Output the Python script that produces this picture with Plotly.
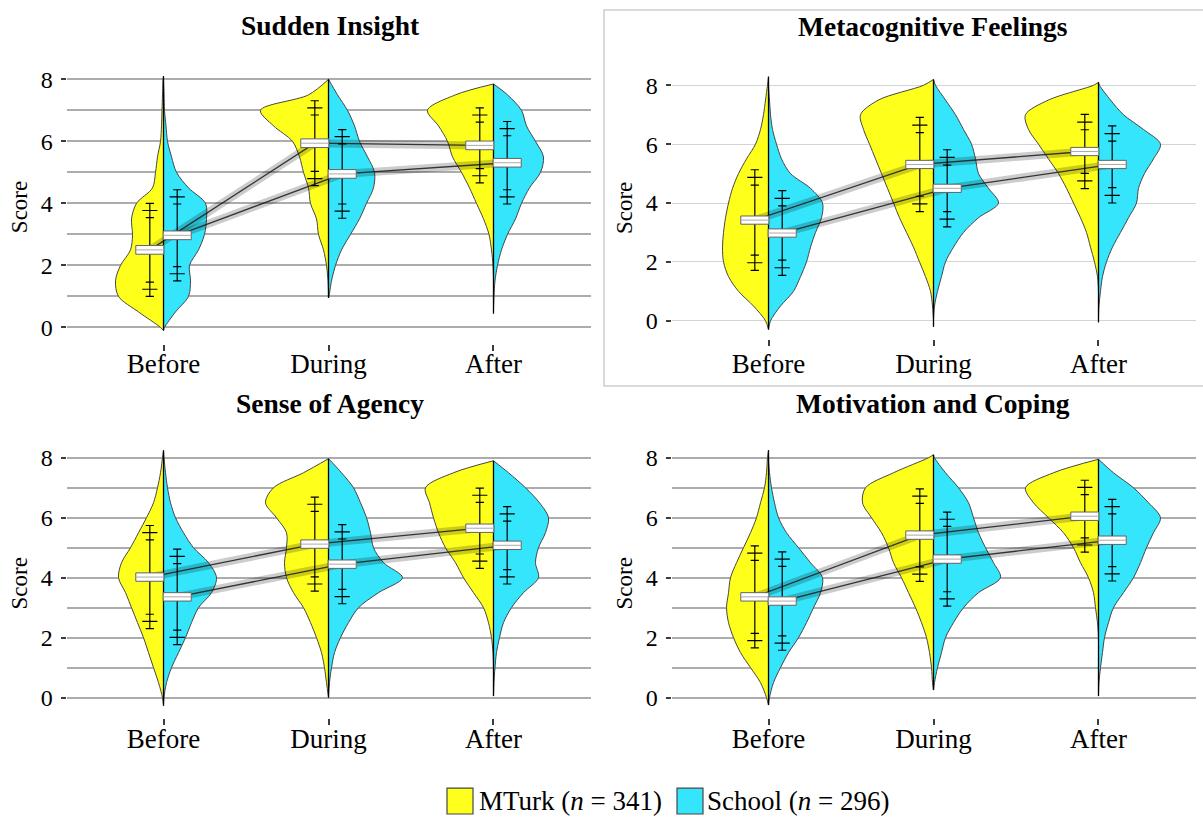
import plotly.graph_objects as go

# ---------------------------------------------------------------- data
PANELS = ["Sudden Insight", "Metacognitive Feelings", "Sense of Agency", "Motivation and Coping"]
CONDITIONS = ["Before", "During", "After"]
GROUPS = ["MTurk (<i>n</i> = 341)", "School (<i>n</i> = 296)"]

# score levels at which the violin densities are given
SCORE_LEVELS = [0, 0.5, 1, 1.5, 2, 2.5, 3, 3.5, 4, 4.5, 5, 5.5, 6, 6.5, 7, 7.5, 8]

# group means per panel (Before, During, After)
MTURK_MEAN = [[2.50, 5.94, 5.87], [3.42, 5.31, 5.75], [4.02, 5.12, 5.65], [3.36, 5.42, 6.05]]
SCHOOL_MEAN = [[2.97, 4.95, 5.31], [2.98, 4.50, 5.31], [3.36, 4.45, 5.08], [3.22, 4.62, 5.25]]

# standard deviations and the spread of their confidence bounds
MTURK_SD = [[1.27, 1.14, 0.98], [1.45, 1.34, 1.00], [1.48, 1.33, 1.10], [1.46, 1.30, 0.96]]
SCHOOL_SD = [[1.24, 1.20, 1.10], [1.18, 1.05, 1.05], [1.35, 1.08, 1.05], [1.40, 1.33, 1.12]]
SD_SPREAD = [0.23, 0.26, 0.24, 0.24]

# observed score extent of each violin (low, high)
EXTENT_LOW = [[-0.10, 0.95, 0.45], [-0.30, -0.20, -0.05], [-0.27, 0.00, 0.05], [-0.25, 0.25, 0.05]]
EXTENT_HIGH = [[8.10, 8.00, 7.85], [8.30, 8.20, 8.10], [8.25, 7.97, 7.90], [8.25, 8.10, 7.95]]

# kernel densities (relative) at SCORE_LEVELS, one row per condition
INSIGHT_MTURK_DENSITY = [
    [3, 25, 45, 48, 43, 33, 31, 32, 27, 11, 8, 6, 3, 2, 1.5, 1, 0.5],
    [0, 0, 0, 0.5, 2, 5, 10, 12, 18, 20, 25, 29, 36, 55, 68, 20, 0],
    [0, 0, 0, 0, 0.5, 2, 4.5, 10, 17, 24, 32, 41, 46, 55, 66, 38, 0],
]
INSIGHT_SCHOOL_DENSITY = [
    [1, 12, 25, 27, 26, 35, 41, 43, 42, 25, 13, 8, 4, 2.5, 1, 0.5, 0],
    [0, 0, 0.5, 3, 7, 13, 22, 31, 38, 45, 46, 39, 31, 26, 19, 9, 0],
    [0, 0, 0.5, 1.5, 4, 8, 14, 22, 28, 36, 47, 50, 42, 33, 28, 14, 0],
]
FEELINGS_MTURK_DENSITY = [
    [3, 15, 30, 40, 45, 46, 45, 43, 40, 36, 30, 22, 13, 8, 5, 3, 1],
    [0, 1, 3, 8, 14, 20, 27, 34, 40, 46, 52, 58, 64, 70, 73, 55, 10],
    [0, 0, 0, 1, 4, 8, 12, 18, 25, 32, 40, 50, 60, 70, 73, 50, 5],
]
FEELINGS_SCHOOL_DENSITY = [
    [2, 12, 25, 32, 38, 42, 47, 53, 54, 42, 22, 13, 8, 4, 2, 1, 0],
    [0, 1, 4, 8, 12, 20, 30, 45, 65, 55, 45, 42, 38, 30, 22, 12, 2],
    [0, 0.5, 2, 4, 8, 14, 22, 30, 38, 40, 46, 55, 62, 45, 25, 12, 1],
]
AGENCY_MTURK_DENSITY = [
    [1, 5, 10, 15, 20, 26, 32, 38, 45, 42, 33, 25, 17, 10, 6, 3, 1],
    [0, 2, 4, 7, 12, 18, 25, 35, 42, 44, 42, 42, 52, 63, 55, 25, 3],
    [0, 0, 0, 0.5, 2, 5, 10, 20, 30, 38, 48, 55, 60, 64, 68, 40, 3],
]
AGENCY_SCHOOL_DENSITY = [
    [0.5, 3, 8, 15, 22, 28, 35, 48, 53, 45, 30, 20, 12, 7, 4, 2, 0.5],
    [0, 1, 3, 6, 12, 20, 30, 50, 74, 55, 45, 42, 38, 32, 25, 13, 1],
    [0, 0.5, 1.5, 3, 6, 10, 18, 30, 45, 42, 45, 52, 55, 46, 32, 15, 1],
]
COPING_MTURK_DENSITY = [
    [2, 8, 18, 28, 35, 40, 42, 40, 38, 32, 25, 18, 12, 8, 4, 2, 1],
    [0, 1, 2, 4, 7, 12, 18, 25, 32, 40, 45, 52, 62, 71, 68, 40, 5],
    [0, 0, 0, 0, 0, 1, 3, 5, 10, 18, 25, 35, 50, 65, 73, 45, 3],
]
COPING_SCHOOL_DENSITY = [
    [1, 5, 12, 20, 30, 38, 45, 52, 54, 42, 30, 18, 10, 6, 3, 1, 0],
    [0, 1, 4, 8, 12, 20, 30, 45, 67, 60, 52, 45, 40, 35, 25, 12, 1],
    [0, 0.5, 2, 4, 6, 10, 15, 25, 35, 42, 48, 55, 62, 50, 35, 15, 1],
]
MTURK_DENSITY = [INSIGHT_MTURK_DENSITY, FEELINGS_MTURK_DENSITY, AGENCY_MTURK_DENSITY, COPING_MTURK_DENSITY]
SCHOOL_DENSITY = [INSIGHT_SCHOOL_DENSITY, FEELINGS_SCHOOL_DENSITY, AGENCY_SCHOOL_DENSITY, COPING_SCHOOL_DENSITY]

# ---------------------------------------------------------------- styling
W, H = 1203, 818
FONT = "Liberation Serif"
YELLOW = "rgb(255,255,28)"
CYAN = "rgb(52,229,251)"
OUTLINE = "rgb(70,70,70)"
VIOLIN_SCALE = 1 / 165.0      # density units -> category units
WHISKER_OFFSET = 0.083        # horizontal offset of the summary marks
BOX_HALF_W = 0.085
BOX_HALF_H = 0.14
CAP_LONG = 0.046
CAP_SHORT = 0.025
X_RANGE = [-0.588, 2.588]

# panel frames in pixels: left, right, px of score 0, px of score 8, y range
FRAMES = [
    dict(l=66.5, r=590.5, y0=325.0, y8=75.7, yr=(-0.53, 8.3), minor=True, lab=-10),
    dict(l=671.5, r=1195.5, y0=318.3, y8=81.7, yr=(-0.63, 8.3), minor=False, lab=-6),
    dict(l=66.5, r=590.5, y0=697.0, y8=456.0, yr=(-0.67, 8.3), minor=True, lab=-9),
    dict(l=671.5, r=1195.5, y0=697.0, y8=456.0, yr=(-0.67, 8.3), minor=True, lab=-9),
]
TITLE_POS = [(330, 22), (933, 23), (330, 401), (933, 401)]


def px_x(p):
    return p / W


def px_y(p):
    return 1 - p / H


def half_violin(center, side, dens, lo, hi):
    ys = [lo]
    ws = [0.0]
    for lvl, d in zip(SCORE_LEVELS, dens):
        if lo < lvl < hi:
            ys.append(lvl)
            ws.append(d)
    ys.append(hi)
    ws.append(0.0)
    xs = [center + side * w * VIOLIN_SCALE for w in ws]
    return xs, ys


fig = go.Figure()
layout_axes = {}
shapes = []
annotations = []

for p, name in enumerate(PANELS):
    fr = FRAMES[p]
    k = "" if p == 0 else str(p + 1)
    xa, ya = "x" + k, "y" + k
    scale = (fr["y0"] - fr["y8"]) / 8.0
    top_px = fr["y0"] - fr["yr"][1] * scale
    bot_px = fr["y0"] - fr["yr"][0] * scale

    grid_col = "rgb(172,172,172)" if fr["minor"] else "rgb(212,212,212)"
    layout_axes["xaxis" + k] = dict(
        domain=[px_x(fr["l"]), px_x(fr["r"])], range=X_RANGE, anchor=ya,
        tickvals=[0, 1, 2], ticktext=CONDITIONS, ticks="outside", ticklen=6,
        tickwidth=1.5, tickcolor="rgb(60,60,60)", showgrid=False, zeroline=False,
        showline=False, ticklabelstandoff=fr["lab"],
        tickfont=dict(size=27, color="black", family=FONT),
    )
    yax = dict(
        domain=[px_y(bot_px), px_y(top_px)], range=list(fr["yr"]), anchor=xa,
        tickvals=[0, 2, 4, 6, 8], ticks="outside", ticklen=5, tickwidth=2,
        tickcolor="rgb(60,60,60)", showgrid=True, gridcolor=grid_col,
        gridwidth=1.6 if fr["minor"] else 1.2, zeroline=False, showline=False,
        ticklabelstandoff=3,
        tickfont=dict(size=24, color="black", family=FONT),
        title=dict(text="Score", font=dict(size=23, color="black", family=FONT), standoff=6),
    )
    if fr["minor"]:
        yax["minor"] = dict(tickvals=[1, 3, 5, 7], showgrid=True, gridcolor=grid_col,
                            gridwidth=1.6, ticks="")
    layout_axes["yaxis" + k] = yax

    # violins
    for c in range(3):
        lo, hi = EXTENT_LOW[p][c], EXTENT_HIGH[p][c]
        for side, dens, col in ((-1, MTURK_DENSITY[p][c], YELLOW), (1, SCHOOL_DENSITY[p][c], CYAN)):
            xs, ys = half_violin(c, side, dens, lo, hi)
            fig.add_trace(go.Scatter(
                x=xs, y=ys, xaxis=xa, yaxis=ya, mode="lines", fill="toself",
                fillcolor=col, line=dict(color=OUTLINE, width=1, shape="spline", smoothing=0.9),
                hoverinfo="skip", showlegend=False,
            ))
        fig.add_trace(go.Scatter(
            x=[c, c], y=[lo, hi], xaxis=xa, yaxis=ya, mode="lines",
            line=dict(color="black", width=1.3), hoverinfo="skip", showlegend=False,
        ))

    # mean trajectories
    for side, means in ((-1, MTURK_MEAN[p]), (1, SCHOOL_MEAN[p])):
        xs = [c + side * WHISKER_OFFSET for c in range(3)]
        fig.add_trace(go.Scatter(
            x=xs, y=means, xaxis=xa, yaxis=ya, mode="lines",
            line=dict(color="rgba(0,0,0,0.20)", width=8), hoverinfo="skip", showlegend=False,
        ))
        fig.add_trace(go.Scatter(
            x=xs, y=means, xaxis=xa, yaxis=ya, mode="lines",
            line=dict(color="rgba(25,25,25,0.85)", width=1.3), hoverinfo="skip", showlegend=False,
        ))

    # SD whiskers with confidence caps
    wx, wy = [], []
    for side, means, sds in ((-1, MTURK_MEAN[p], MTURK_SD[p]), (1, SCHOOL_MEAN[p], SCHOOL_SD[p])):
        for c in range(3):
            cx = c + side * WHISKER_OFFSET
            m, s, e = means[c], sds[c], SD_SPREAD[p]
            wx += [cx, cx, None]
            wy += [m - s - e, m + s + e, None]
            for v in (m + s, m - s):
                wx += [cx - CAP_LONG, cx + CAP_LONG, None]
                wy += [v, v, None]
                for ev in (v - e, v + e):
                    wx += [cx - CAP_SHORT, cx + CAP_SHORT, None]
                    wy += [ev, ev, None]
            shapes.append(dict(type="rect", xref=xa, yref=ya, x0=cx - BOX_HALF_W, x1=cx + BOX_HALF_W,
                               y0=m - BOX_HALF_H, y1=m + BOX_HALF_H, fillcolor="white",
                               line=dict(color="rgb(100,100,100)", width=1)))
            shapes.append(dict(type="line", xref=xa, yref=ya, x0=cx - BOX_HALF_W, x1=cx + BOX_HALF_W,
                               y0=m, y1=m, line=dict(color="rgb(170,170,170)", width=1)))
    fig.add_trace(go.Scatter(
        x=wx, y=wy, xaxis=xa, yaxis=ya, mode="lines",
        line=dict(color="black", width=1.2), hoverinfo="skip", showlegend=False,
    ))

    tx, ty = TITLE_POS[p]
    annotations.append(dict(text="<b>" + name + "</b>", x=px_x(tx), y=px_y(ty), xref="paper",
                            yref="paper", showarrow=False, xanchor="center", yanchor="middle",
                            font=dict(size=27.5, color="black", family=FONT)))

# framed second panel
shapes.append(dict(type="rect", xref="paper", yref="paper", x0=px_x(604), x1=px_x(1204),
                   y0=px_y(384), y1=px_y(6), line=dict(color="rgb(205,205,205)", width=1.5),
                   layer="below"))

# legend
for (sx, tx), col, label in zip(((447, 477), (677, 705)), (YELLOW, CYAN), GROUPS):
    shapes.append(dict(type="rect", xref="paper", yref="paper", x0=px_x(sx), x1=px_x(sx + 26),
                       y0=px_y(814), y1=px_y(788), fillcolor=col,
                       line=dict(color="rgb(70,70,70)", width=1.2)))
    annotations.append(dict(text=label, x=px_x(tx), y=px_y(801), xref="paper", yref="paper",
                            showarrow=False, xanchor="left", yanchor="middle",
                            font=dict(size=27, color="black", family=FONT)))

fig.update_layout(
    width=W, height=H, margin=dict(l=0, r=0, t=0, b=0),
    paper_bgcolor="white", plot_bgcolor="white",
    font=dict(family=FONT, color="black"),
    showlegend=False, shapes=shapes, annotations=annotations,
    **layout_axes,
)

fig.write_html("out.html")
